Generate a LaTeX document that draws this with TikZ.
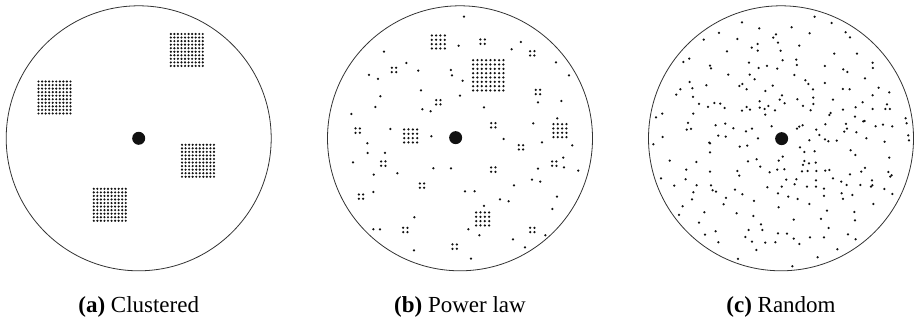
\documentclass[tikz,border=0pt]{standalone}
\usepackage{fontspec}
\setmainfont{Liberation Serif}
\usetikzlibrary{positioning}
\definecolor{DotInk}{HTML}{111111}
\definecolor{RimInk}{HTML}{333333}
\tikzset{
  field/.style={draw=RimInk, circle, line width=0.8pt, minimum size=265pt, inner sep=0pt},
  dot/.style={fill=DotInk},
  hub/.style={fill=DotInk},
  caption/.style={font=\fontsize{23}{27}\selectfont, anchor=base, inner sep=0pt},
}
\begin{document}
\begin{tikzpicture}[x=1pt,y=-1pt]
  \useasboundingbox (0,0) rectangle (915,321);
  % the three fields
  \node[field] (plotA) at (138.7,138.3) {};
  \node[field] (plotB) at (460,138.3) {};
  \node[field] (plotC) at (781,138.3) {};
  \node[caption] (capA) at ([yshift=-41pt]plotA.south) {\textbf{(a)} Clustered};
  \node[caption] (capB) at ([yshift=-41pt]plotB.south) {\textbf{(b)} Power law};
  \node[caption] (capC) at ([yshift=-41pt]plotC.south) {\textbf{(c)} Random};
  % (a) four 10x10 clusters
  \foreach \cx/\cy in {186.8/50, 54.5/97.5, 198/160.8, 109.8/204.8}
    \foreach \i in {0,...,9}
      \foreach \j in {0,...,9}
        \fill[dot] (\cx-16+3.55*\i, \cy-16+3.55*\j) circle (1.2pt);
  \fill[hub] (plotA.center) circle (6.5pt);
  % (b) groups of 1, 4, 16 and 64, positions in 1/3 px
  \begin{scope}[xshift=310pt, x=0.3333pt, y=-0.3333pt]
    \foreach \cx/\cy/\n in {
      462/50/1, 446/137/1, 222/155/1, 605/148/1, 633/126/1, 289/189/1, 738/187/1,
      325/212/1, 423/210/1, 426/226/1, 177/225/1, 204/237/1, 458/242/1, 777/226/1,
      333/271/1, 211/289/1, 450/287/1, 196/321/1, 337/328/1, 362/334/1, 522/322/1,
      684/307/1, 754/303/1, 124/342/1, 742/355/1, 670/370/1, 241/387/1, 364/409/1,
      581/417/1, 696/427/1, 172/430/1, 787/436/1, 173/459/1, 225/459/1, 760/473/1,
      129/487/1, 370/505/1, 423/505/1, 684/506/1, 762/502/1, 805/512/1, 262/520/1,
      191/524/1, 666/539/1, 691/545/1, 612/556/1, 190/576/1, 465/574/1, 494/574/1,
      570/598/1, 596/604/1, 741/590/1, 522/618/1, 727/627/1, 313/652/1, 190/688/1,
      210/688/1, 475/688/1, 508/706/1, 706/706/1, 609/718/1, 645/742/1, 312/751/1,
      483/776/1,
      518/125/2, 667/160/2, 252/210/2, 684/276/2, 385/307/2, 550/376/2, 143/392/2,
      633/442/2, 220/491/2, 733/491/2, 550/509/2, 336/557/2, 153/590/2, 286/690/2,
      667/690/2, 434/740/2,
      385/126/4, 302/408/4, 750/392/4, 518/657/4,
      535/226/8}
      \foreach \i in {1,...,\n}
        \foreach \j in {1,...,\n}
          \fill[dot] (\cx+13*\i-6.5*\n-6.5, \cy+13*\j-6.5*\n-6.5) circle (1.25pt);
    \fill[hub] (437,413) circle (6.5pt);
  \end{scope}
  % (c) uniform scatter, positions in 1/3 px
  \begin{scope}[xshift=620pt, x=0.3333pt, y=-0.3333pt]
    \foreach \u/\v in {
      584/50, 366/67, 635/69, 418/85, 515/82, 297/99, 569/100, 677/97, 468/103,
      460/113, 690/112, 251/119, 352/117, 413/132, 474/128, 538/137, 395/143,
      413/152, 321/154, 482/152, 643/161, 711/161, 208/176, 190/186, 488/181,
      529/179, 387/188, 758/188, 270/197, 273/205, 531/195, 441/198, 416/204,
      472/206, 615/198, 670/208, 682/216, 759/204, 325/224, 389/224, 523/225,
      735/235, 404/238, 556/241, 565/252, 367/252, 358/258, 458/257, 615/249,
      209/246, 259/256, 181/268, 217/265, 380/268, 579/268, 669/267, 689/268,
      776/263, 169/284, 219/291, 436/273, 486/286, 479/299, 532/298, 580/293,
      580/312, 494/310, 639/299, 758/286, 808/277, 237/312, 283/309, 301/311,
      264/321, 314/324, 419/304, 445/318, 419/323, 380/321, 434/327, 549/318,
      728/307, 572/331, 465/331, 366/332, 390/329, 801/313, 796/327, 810/327,
      669/329, 707/322, 127/341, 108/352, 220/341, 436/344, 632/339, 628/345,
      758/327, 705/350, 857/355, 860/370, 730/364, 734/363, 204/369, 287/376,
      316/371, 616/373, 548/376, 538/380, 678/372, 767/379, 789/374, 817/379,
      455/379, 531/386, 200/389, 213/387, 340/385, 396/386, 378/394, 589/389,
      673/395, 681/386, 709/397, 295/407, 317/410, 414/415, 598/405, 615/418,
      625/424, 650/422, 739/415, 865/406, 867/421, 128/411, 268/428, 270/430,
      568/421, 794/425, 100/433, 359/440, 382/437, 540/442, 553/456, 584/454,
      270/457, 692/451, 706/465, 488/470, 476/482, 149/482, 229/486, 384/484,
      410/478, 553/483, 549/495, 567/490, 587/488, 808/473, 421/500, 493/508,
      472/509, 199/509, 270/515, 352/513, 358/527, 449/517, 546/514, 563/513,
      589/513, 616/512, 628/510, 735/504, 724/515, 690/523, 805/516, 815/526,
      811/530, 123/535, 197/538, 499/539, 529/538, 639/535, 588/541, 664/545,
      756/541, 163/557, 230/556, 273/556, 442/562, 485/560, 524/553, 561/560,
      588/560, 612/566, 680/555, 721/555, 753/560, 757/556, 793/567, 220/577,
      278/571, 288/575, 345/569, 367/583, 474/580, 505/590, 533/597, 612/588,
      665/580, 669/597, 697/585, 817/582, 216/598, 318/594, 402/603, 311/613,
      568/612, 760/612, 188/619, 476/622, 621/632, 177/645, 253/637, 350/640,
      400/648, 703/636, 521/659, 603/657, 705/661, 237/668, 423/673, 386/690,
      427/690, 626/684, 287/694, 474/700, 501/701, 255/704, 376/711, 521/716,
      570/712, 612/712, 684/703, 707/718, 295/727, 396/725, 436/728, 466/727,
      538/732, 409/750, 652/748, 593/772, 354/777, 517/799}
      \fill[dot] (\u,\v) circle (1.25pt);
    \fill[hub] (485,416) circle (6.5pt);
  \end{scope}
\end{tikzpicture}
\end{document}
